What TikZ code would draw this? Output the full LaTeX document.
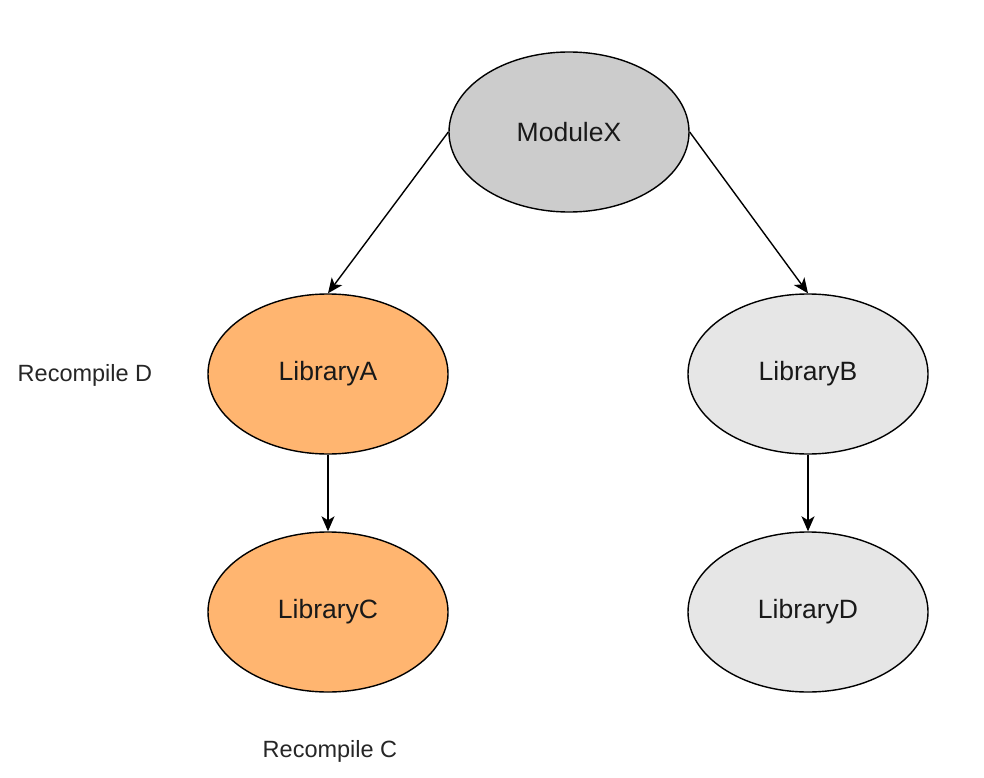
\documentclass[tikz,border=0pt]{standalone}
\usepackage{fontspec}
\setmainfont{Liberation Sans}
\usetikzlibrary{shapes.geometric,arrows.meta}
\definecolor{orangefill}{HTML}{FFB570}
\definecolor{greyfill}{HTML}{CCCCCC}
\definecolor{lightfill}{HTML}{E6E6E6}
\tikzset{
  ell/.style={ellipse, draw=black, line width=1.4pt, minimum width=240pt, minimum height=160pt, inner sep=0pt, font=\fontsize{26.5}{30}\selectfont, text=black!90},
  lbl/.style={font=\fontsize{23.5}{28}\selectfont, text=black!85},
  conn/.style={line width=1.4pt, -{Stealth[length=15pt,width=13pt,inset=4pt]}}
}
\begin{document}
\begin{tikzpicture}[x=1pt,y=-1pt]
\useasboundingbox (0,0) rectangle (984,778);
\node[ell, fill=greyfill] (mx) at (569,132) {ModuleX};
\node[ell, fill=orangefill] (a) at (328,374) {LibraryA};
\node[ell, fill=lightfill] (b) at (808,374) {LibraryB};
\node[ell, fill=orangefill] (c) at (328,612) {LibraryC};
\node[ell, fill=lightfill] (d) at (808,612) {LibraryD};
\node[lbl] (rd) at (85,375) {Recompile D};
\node[lbl] (rc) at (330,751) {Recompile C};
\draw[conn] (mx.west) -- (a.north);
\draw[conn] (mx.east) -- (b.north);
\draw[conn] (a.south) -- (c.north);
\draw[conn] (b.south) -- (d.north);
\end{tikzpicture}
\end{document}
